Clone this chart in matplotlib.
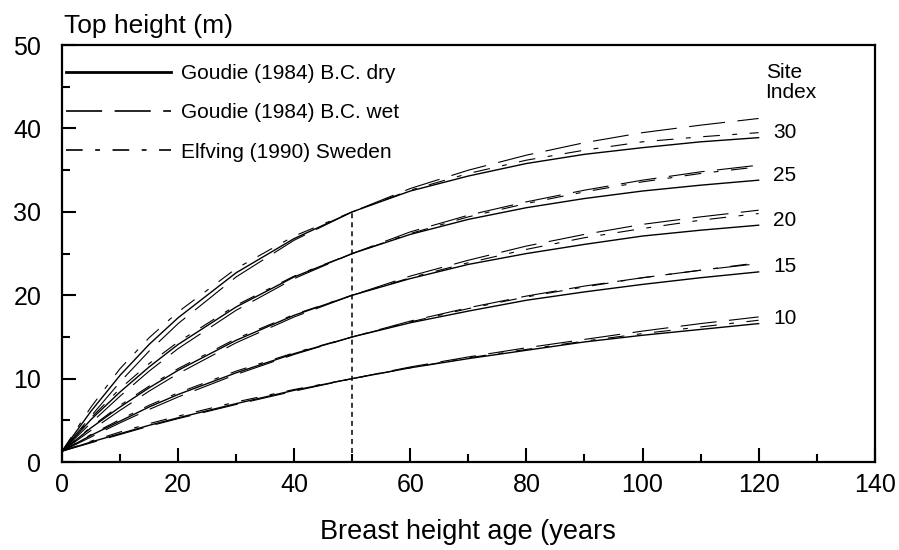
import matplotlib
matplotlib.use("Agg")
import matplotlib.pyplot as plt
from matplotlib.lines import Line2D
from matplotlib.ticker import MultipleLocator

plt.rcParams['font.family'] = ['Liberation Sans', 'DejaVu Sans']
plt.rcParams['lines.scale_dashes'] = False

## Data: top height (m) by breast height age
ages = [0, 5, 10, 15, 20, 30, 40, 50, 60, 70, 80, 90, 100, 110, 120]
site_index = [10, 15, 20, 25, 30]

dry = {
    10: [1.3, 2.4, 3.4, 4.4, 5.3, 7.0, 8.6, 10.0, 11.3, 12.4, 13.4, 14.4, 15.2, 15.9, 16.6],
    15: [1.3, 3.2, 4.9, 6.6, 8.1, 10.7, 13.0, 15.0, 16.7, 18.1, 19.4, 20.4, 21.3, 22.1, 22.8],
    20: [1.3, 4.1, 6.6, 8.9, 11.0, 14.6, 17.6, 20.0, 22.0, 23.7, 25.0, 26.1, 27.1, 27.8, 28.4],
    25: [1.3, 5.1, 8.4, 11.4, 14.1, 18.6, 22.2, 25.0, 27.3, 29.1, 30.5, 31.6, 32.5, 33.2, 33.8],
    30: [1.3, 6.1, 10.4, 14.1, 17.3, 22.7, 26.8, 30.0, 32.5, 34.3, 35.8, 36.9, 37.7, 38.4, 38.9],
}
wet = {
    10: [1.3, 2.3, 3.3, 4.3, 5.2, 6.9, 8.5, 10.0, 11.4, 12.6, 13.7, 14.7, 15.7, 16.6, 17.4],
    15: [1.3, 3.0, 4.7, 6.3, 7.8, 10.5, 12.9, 15.0, 16.9, 18.5, 19.9, 21.1, 22.1, 23.0, 23.8],
    20: [1.3, 3.8, 6.2, 8.5, 10.6, 14.3, 17.4, 20.0, 22.3, 24.2, 25.9, 27.3, 28.5, 29.4, 30.2],
    25: [1.3, 4.7, 7.9, 10.9, 13.6, 18.2, 22.0, 25.0, 27.6, 29.6, 31.2, 32.6, 33.8, 34.8, 35.6],
    30: [1.3, 5.5, 9.6, 13.3, 16.6, 22.2, 26.6, 30.0, 32.8, 35.0, 36.8, 38.3, 39.5, 40.4, 41.2],
}
elfving = {
    10: [1.3, 2.5, 3.6, 4.6, 5.5, 7.2, 8.7, 10.0, 11.3, 12.5, 13.5, 14.5, 15.4, 16.2, 17.0],
    15: [1.3, 3.3, 5.1, 6.8, 8.3, 10.9, 13.1, 15.0, 16.8, 18.4, 19.8, 21.0, 22.1, 23.0, 23.9],
    20: [1.3, 4.2, 6.8, 9.1, 11.2, 14.8, 17.7, 20.0, 22.1, 23.9, 25.5, 26.9, 28.0, 29.0, 29.8],
    25: [1.3, 5.3, 8.8, 11.8, 14.4, 18.8, 22.3, 25.0, 27.4, 29.4, 31.0, 32.4, 33.6, 34.6, 35.4],
    30: [1.3, 6.6, 11.2, 14.9, 18.0, 23.2, 27.1, 30.0, 32.6, 34.6, 36.2, 37.4, 38.4, 39.0, 39.5],
}
legend_labels = ["Goudie (1984) B.C. dry", "Goudie (1984) B.C. wet", "Elfving (1990) Sweden"]

## line styles
wet_ls = (0, (26, 9))
elf_ls = (0, (12, 9, 3.5, 9))

fig = plt.figure(figsize=(8.99, 5.5), dpi=100)
ax = fig.add_axes([0.069, 0.16, 0.904, 0.758])

for si in site_index:
    ax.plot(ages, elfving[si], color='black', lw=0.8, linestyle=elf_ls)
    ax.plot(ages, wet[si], color='black', lw=0.8, linestyle=wet_ls)
    ax.plot(ages, dry[si], color='black', lw=1.0, linestyle='-')
    ax.text(122.5, dry[si][-1] + 0.6, str(si), fontsize=15, ha='left', va='center')

ax.text(121.2, 45.5, "Site\nIndex", fontsize=15, ha='left', va='center', linespacing=1.05)

## reference age line
ax.plot([50, 50], [0, 30], color='black', lw=1.1, linestyle=(0, (3.6, 2.9)))

handles = [Line2D([], [], color='black', lw=2.0),
           Line2D([], [], color='black', lw=1.2, linestyle=wet_ls),
           Line2D([], [], color='black', lw=1.2, linestyle=elf_ls)]
ax.legend(handles, legend_labels, loc='upper left', bbox_to_anchor=(0.0, 0.964),
          frameon=False, fontsize=15, handlelength=5.05, handletextpad=0.48,
          labelspacing=0.97, borderpad=0.2, borderaxespad=0)

ax.set_xlim(0, 140)
ax.set_ylim(0, 50)
ax.xaxis.set_major_locator(MultipleLocator(20))
ax.xaxis.set_minor_locator(MultipleLocator(10))
ax.yaxis.set_major_locator(MultipleLocator(10))
ax.yaxis.set_minor_locator(MultipleLocator(5))
ax.tick_params(which='both', direction='in', top=False, right=False, width=1.5)
ax.tick_params(which='major', length=10)
ax.tick_params(which='minor', length=6)
ax.tick_params(axis='x', which='major', pad=8, labelsize=18)
ax.tick_params(axis='y', which='major', pad=15, labelsize=18)
for s in ax.spines.values():
    s.set_linewidth(1.6)

ax.set_xlabel("Breast height age (years", fontsize=19.5, labelpad=16)
ax.text(0.003, 1.045, "Top height (m)", transform=ax.transAxes, fontsize=19,
        ha='left', va='center')

fig.savefig("out.png", dpi=100)
